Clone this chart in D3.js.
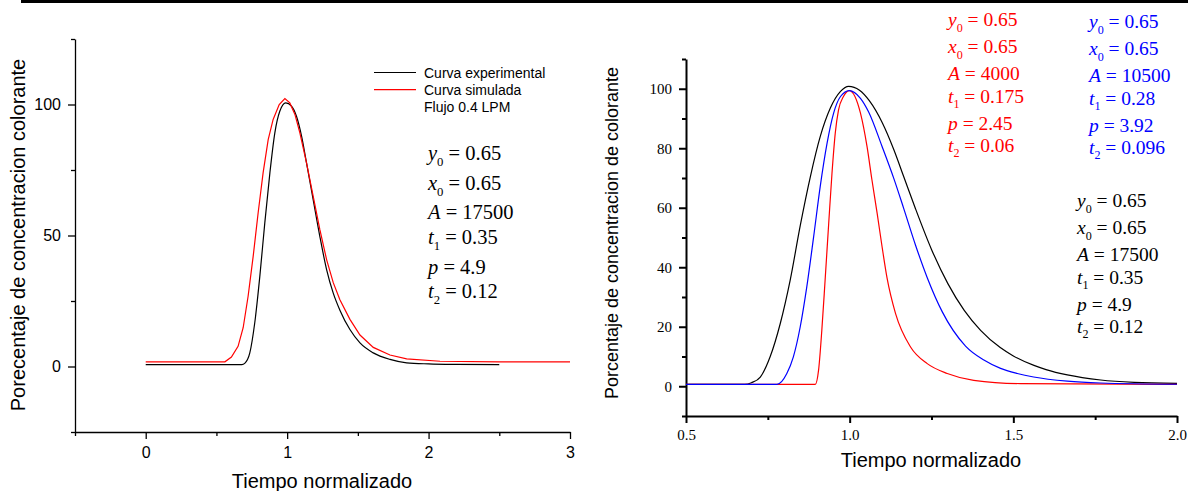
<!DOCTYPE html>
<html>
<head>
<meta charset="utf-8">
<script src="https://cdn.jsdelivr.net/npm/d3@7"></script>
<style>
  body { margin: 0; background: #fff; }
  svg { display: block; }
</style>
</head>
<body>
<svg id="chart" width="1188" height="491"></svg>
<script>
// ---------- data ----------
// Left panel: experimental and simulated tracer curves (flow 0.4 LPM)
const leftExpX = [0, 0.5, 0.68, 0.70, 0.736, 0.771, 0.807, 0.842, 0.878, 0.913, 0.948, 0.99, 1.031, 1.066, 1.102, 1.137, 1.184, 1.231, 1.279, 1.326, 1.373, 1.444, 1.515, 1.609, 1.727, 1.845, 2.0, 2.2, 2.5];
const leftExpY = [0.7, 0.7, 0.7, 1.2, 5.2, 16.7, 34.5, 54.8, 73.9, 89.2, 97.4, 100.6, 99.4, 95.5, 87.9, 77.7, 63.7, 49.7, 37.0, 28.0, 21.5, 14.1, 9.0, 5.2, 2.7, 1.4, 1.0, 0.8, 0.7];
const leftSimX = [0, 0.56, 0.606, 0.653, 0.689, 0.724, 0.760, 0.795, 0.830, 0.866, 0.901, 0.944, 0.984, 1.019, 1.055, 1.090, 1.137, 1.184, 1.231, 1.279, 1.326, 1.373, 1.444, 1.515, 1.609, 1.727, 1.845, 2.081, 2.5, 3.0];
const leftSimY = [1.8, 1.8, 3.6, 7.7, 14.8, 26.8, 42.1, 58.7, 73.9, 86.6, 94.3, 100.0, 102.3, 100.6, 96.2, 89.2, 77.7, 65.0, 52.3, 40.8, 32.0, 25.5, 18.0, 12.0, 7.3, 4.4, 2.9, 2.0, 1.8, 1.8];

// Right panel: three simulated curves
const rightBlackX = [0.5, 0.68, 0.70, 0.727, 0.757, 0.788, 0.818, 0.849, 0.880, 0.910, 0.941, 0.972, 0.997, 1.03, 1.06, 1.10, 1.135, 1.165, 1.20, 1.25, 1.30, 1.35, 1.40, 1.46, 1.50, 1.563, 1.60, 1.665, 1.767, 1.869, 2.0];
const rightBlackY = [0.65, 0.65, 1.2, 3.1, 9.9, 21.1, 35.5, 54.0, 70.5, 83.9, 93.5, 99.1, 100.8, 99.5, 96.0, 88.5, 79.5, 70.5, 60.0, 46.0, 34.5, 25.5, 18.8, 13.0, 10.2, 7.0, 5.6, 3.8, 2.1, 1.3, 0.95];
const rightBlueX = [0.5, 0.778, 0.808, 0.828, 0.849, 0.869, 0.890, 0.910, 0.931, 0.951, 0.972, 0.999, 1.033, 1.058, 1.099, 1.135, 1.165, 1.201, 1.237, 1.283, 1.354, 1.410, 1.461, 1.512, 1.562, 1.665, 1.767, 2.0];
const rightBlueY = [0.65, 0.65, 4.3, 9.9, 20.0, 33.4, 50.3, 67.1, 81.7, 91.8, 97.4, 99.4, 96.8, 92.2, 80.6, 69.8, 59.8, 47.5, 36.5, 25.0, 13.5, 8.8, 6.0, 4.3, 3.1, 1.7, 1.1, 0.67];
const rightRedX = [0.5, 0.895, 0.905, 0.915, 0.925, 0.936, 0.946, 0.956, 0.966, 0.981, 0.999, 1.033, 1.053, 1.068, 1.084, 1.099, 1.114, 1.140, 1.186, 1.237, 1.298, 1.379, 1.522, 2.0];
const rightRedY = [0.65, 0.65, 5.4, 18.9, 35.7, 54.8, 71.6, 85.1, 92.9, 97.4, 99.4, 91.8, 80.6, 69.4, 58.1, 46.9, 36.5, 24.5, 13.2, 7.6, 4.3, 2.0, 0.9, 0.65];

// Ticks
const leftXTicks = [0, 1, 2, 3];
const leftXMinor = [-0.5, 0.5, 1.5, 2.5];
const leftYTicks = [0, 50, 100];
const leftYMinor = [-25, 25, 75, 125];
const rightXTicks = [0.5, 1.0, 1.5, 2.0];
const rightXMinor = [0.75, 1.25, 1.75];
const rightYTicks = [0, 20, 40, 60, 80, 100];
const rightYMinor = [-10, 10, 30, 50, 70, 90, 110];

// Legend and fit parameters
const legendLabels = ["Curva experimental", "Curva simulada", "Flujo 0.4 LPM"];
const paramSymbols = [["y", "0"], ["x", "0"], ["A", ""], ["t", "1"], ["p", ""], ["t", "2"]];
const leftParams = ["0.65", "0.65", "17500", "0.35", "4.9", "0.12"];
const redParams = ["0.65", "0.65", "4000", "0.175", "2.45", "0.06"];
const blueParams = ["0.65", "0.65", "10500", "0.28", "3.92", "0.096"];
const blackParams = ["0.65", "0.65", "17500", "0.35", "4.9", "0.12"];

// ---------- drawing ----------
const svg = d3.select("#chart");
const SANS = "'Liberation Sans', Arial, sans-serif";
const SERIF = "'Liberation Serif', 'Times New Roman', serif";

// rule across the top of the figure
svg.append("rect").attr("x", 21).attr("y", 0).attr("width", 1167).attr("height", 3).attr("fill", "#000");

const zip = (xs, ys) => xs.map((x, i) => [x, ys[i]]);

function drawAxes(g, x, y, o) {
  const ax = g.append("g").attr("transform", `translate(0,${y.range()[0]})`);
  ax.call(d3.axisBottom(x).tickValues(o.xTicks).tickSize(7).tickSizeOuter(0).tickPadding(o.xPad).tickFormat(o.xFmt));
  ax.append("g").call(d3.axisBottom(x).tickValues(o.xMinor).tickSize(4).tickFormat(""))
    .select(".domain").remove();
  const ay = g.append("g").attr("transform", `translate(${x.range()[0]},0)`);
  ay.call(d3.axisLeft(y).tickValues(o.yTicks).tickSize(7).tickSizeOuter(0).tickPadding(7).tickFormat(o.yFmt));
  ay.append("g").call(d3.axisLeft(y).tickValues(o.yMinor).tickSize(4).tickFormat(""))
    .select(".domain").remove();
  [ax, ay].forEach(a => {
    a.selectAll("path,line").attr("stroke", "#000").attr("stroke-width", o.sw);
    a.selectAll("text").attr("font-family", o.font).attr("font-size", o.fs).attr("fill", "#000");
  });
}

function drawParams(g, x0, y0, gap, fs, color, values) {
  const offs = [0, 27, 54, 76.5, 104, 125.5];
  const t = g.append("g").attr("fill", color).attr("font-family", SERIF).attr("font-size", fs);
  paramSymbols.forEach((s, i) => {
    const txt = t.append("text").attr("x", x0).attr("y", y0 + offs[i] * gap);
    txt.append("tspan").attr("font-style", "italic").text(s[0]);
    if (s[1]) {
      txt.append("tspan").attr("font-size", fs * 0.62).attr("dy", fs * 0.3).text(s[1]);
      txt.append("tspan").attr("dy", -fs * 0.3).text("\u00a0= " + values[i]);
    } else {
      txt.append("tspan").text("\u00a0= " + values[i]);
    }
  });
}

// ---- left panel ----
const lx = d3.scaleLinear().domain([-0.5, 3]).range([75, 570]);
const ly = d3.scaleLinear().domain([-25, 125]).range([432, 39]);
const left = svg.append("g");
drawAxes(left, lx, ly, {
  xTicks: leftXTicks, xMinor: leftXMinor, yTicks: leftYTicks, yMinor: leftYMinor,
  xFmt: d3.format("d"), yFmt: d3.format("d"), xPad: 8, font: SANS, fs: 16, sw: 1.3
});
const lline = d3.line().x(d => lx(d[0])).y(d => ly(d[1]));
left.append("path").datum(zip(leftExpX, leftExpY))
  .attr("d", lline.curve(d3.curveMonotoneX)).attr("fill", "none").attr("stroke", "#000").attr("stroke-width", 1.2);
left.append("path").datum(zip(leftSimX, leftSimY))
  .attr("d", lline.curve(d3.curveLinear)).attr("fill", "none").attr("stroke", "#ff0000").attr("stroke-width", 1.2);

left.append("text").attr("x", 322).attr("y", 488).attr("text-anchor", "middle")
  .attr("font-family", SANS).attr("font-size", 20).text("Tiempo normalizado");
left.append("text").attr("transform", "translate(25,235) rotate(-90)").attr("text-anchor", "middle")
  .attr("font-family", SANS).attr("font-size", 20).text("Porecentaje de concentracion colorante");

// legend
const legColors = ["#000", "#ff0000"];
const lg = left.append("g").attr("font-family", SANS).attr("font-size", 14);
legendLabels.forEach((lab, i) => {
  const by = 77.5 + i * 17.2;
  if (i < 2) {
    lg.append("line").attr("x1", 374).attr("x2", 416).attr("y1", by - 5).attr("y2", by - 5)
      .attr("stroke", legColors[i]).attr("stroke-width", 1.2);
  }
  lg.append("text").attr("x", 424).attr("y", by).text(lab);
});

drawParams(left, 428, 160, 1.1, 20.5, "#000", leftParams);

// ---- right panel ----
const rx = d3.scaleLinear().domain([0.5, 2.0]).range([686, 1177]);
const ry = d3.scaleLinear().domain([-10, 110]).range([416, 59]);
const right = svg.append("g");
drawAxes(right, rx, ry, {
  xTicks: rightXTicks, xMinor: rightXMinor, yTicks: rightYTicks, yMinor: rightYMinor,
  xFmt: d3.format(".1f"), yFmt: d3.format("d"), xPad: 6.5, font: SERIF, fs: 15, sw: 2
});
const rline = d3.line().x(d => rx(d[0])).y(d => ry(d[1])).curve(d3.curveMonotoneX);
[[rightBlackX, rightBlackY, "#000"], [rightRedX, rightRedY, "#ff0000"], [rightBlueX, rightBlueY, "#0000ff"]]
  .forEach(([xs, ys, c]) => {
    right.append("path").datum(zip(xs, ys)).attr("d", rline)
      .attr("fill", "none").attr("stroke", c).attr("stroke-width", 1.2);
  });

right.append("text").attr("x", 931).attr("y", 467).attr("text-anchor", "middle")
  .attr("font-family", SANS).attr("font-size", 20).text("Tiempo normalizado");
right.append("text").attr("transform", "translate(618,233) rotate(-90)").attr("text-anchor", "middle")
  .attr("font-family", SANS).attr("font-size", 18).text("Porcentaje de concentracion de colorante");

drawParams(right, 948, 26, 1.0, 19.5, "#ff0000", redParams);
drawParams(right, 1089, 28, 1.0, 19.5, "#0000ff", blueParams);
drawParams(right, 1077, 207, 1.0, 19.5, "#000", blackParams);
</script>
</body>
</html>
